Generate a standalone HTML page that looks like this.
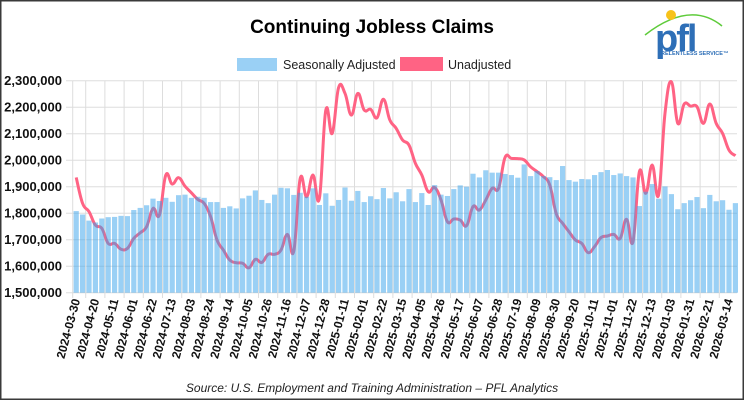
<!DOCTYPE html>
<html><head><meta charset="utf-8">
<style>
html,body{margin:0;padding:0;background:#fff;}
body{width:745px;height:400px;overflow:hidden;}
svg text{font-family:"Liberation Sans",Arial,sans-serif;}
</style></head>
<body>
<svg id="c" width="745" height="400" viewBox="0 0 745 400" xmlns="http://www.w3.org/2000/svg">
<rect x="0.75" y="0.75" width="742.5" height="398.5" fill="#fff" stroke="#3a3a3a" stroke-width="1.5"/>
<text x="372" y="33" text-anchor="middle" font-size="19" font-weight="bold" fill="#000">Continuing Jobless Claims</text>
<rect x="237" y="58" width="40" height="13" fill="rgba(54,162,235,0.5)"/>
<text x="283" y="69" font-size="12.5" fill="#222">Seasonally Adjusted</text>
<rect x="400" y="57" width="43" height="14" fill="#ff6384"/>
<text x="448" y="69" font-size="12.5" fill="#222">Unadjusted</text>
<!-- logo -->
<path d="M645 35 Q690 0 722 26" fill="none" stroke="#5ecb3a" stroke-width="1.5"/>
<circle cx="671" cy="15" r="5" fill="#f7c21a"/>
<text x="655" y="51" font-size="38" font-weight="bold" fill="#2e6fb7" letter-spacing="-2">pfl</text>
<text x="661" y="55" font-size="5.5" font-weight="bold" fill="#2e6fb7">RELENTLESS SERVICE™</text>
<text x="372" y="392" text-anchor="middle" font-size="12" font-style="italic" fill="#222">Source: U.S. Employment and Training Administration – PFL Analytics</text>
<g id="plot"></g>
</svg>
<script>
var bars=[1808,1795,1772,1765,1780,1785,1786,1790,1789,1812,1820,1830,1855,1846,1858,1843,1868,1870,1858,1862,1858,1842,1842,1820,1826,1818,1856,1866,1886,1850,1838,1870,1896,1894,1869,1877,1862,1894,1831,1875,1828,1850,1897,1847,1884,1842,1864,1853,1895,1856,1879,1845,1891,1842,1876,1831,1906,1870,1865,1891,1905,1900,1949,1935,1962,1953,1953,1948,1944,1934,1984,1940,1959,1940,1936,1925,1978,1925,1919,1929,1928,1944,1955,1963,1944,1950,1940,1935,1827,1881,1910,1855,1901,1872,1815,1838,1849,1861,1819,1869,1845,1849,1813,1838];
var line=[1935,1837,1806,1755,1743,1686,1686,1664,1667,1705,1726,1749,1818,1793,1944,1910,1934,1902,1877,1852,1837,1787,1699,1661,1623,1613,1611,1594,1626,1614,1645,1645,1661,1720,1657,1931,1862,1944,1856,2189,2101,2274,2252,2170,2252,2189,2192,2160,2230,2152,2120,2076,2057,1988,1944,1881,1897,1850,1768,1778,1774,1753,1825,1812,1850,1894,1894,2010,2007,2006,2001,1975,1957,1938,1906,1799,1762,1730,1699,1686,1651,1674,1708,1714,1720,1705,1777,1692,1957,1875,1982,1869,2177,2296,2139,2212,2204,2202,2139,2212,2139,2101,2038,2017];
var labels=["2024-03-30","2024-04-20","2024-05-11","2024-06-01","2024-06-22","2024-07-13","2024-08-03","2024-08-24","2024-09-14","2024-10-05","2024-10-26","2024-11-16","2024-12-07","2024-12-28","2025-01-11","2025-02-01","2025-02-22","2025-03-15","2025-04-05","2025-04-26","2025-05-17","2025-06-07","2025-06-28","2025-07-19","2025-08-09","2025-08-30","2025-09-20","2025-10-11","2025-11-01","2025-11-22","2025-12-13","2026-01-03","2026-01-31","2026-02-21","2026-03-14"];
var X0=73,W=6.4,Y0=292.7,K=0.265;
function y(v){return Y0-(v-1500)*K;}
var s='';
for(var v=1500;v<=2300;v+=100){var yy=y(v);
 s+='<line x1="66" x2="737" y1="'+yy+'" y2="'+yy+'" stroke="#ddd" stroke-width="1"/>';
 s+='<text x="62" y="'+(yy+4.5)+'" text-anchor="end" font-size="13" font-weight="bold" fill="#111">'+(v/1000).toFixed(3).replace('.',',')+',000</text>';}
s+='<line x1="72.7" x2="72.7" y1="80.7" y2="298" stroke="#ddd"/>';
for(var k=0;k<35;k++){var xx=85.7+19.2*k; if(xx>737)break;
 s+='<line x1="'+xx+'" x2="'+xx+'" y1="80.7" y2="298" stroke="#ddd"/>';}
var p=line.map(function(v,i){return [X0+W*i+3.2,y(v)];});
var d='M'+p[0][0]+' '+p[0][1];var t=0.4;
for(var i=0;i<p.length-1;i++){var a=p[i-1]||p[i],b=p[i],c=p[i+1],e=p[i+2]||c;
 d+=' C'+(b[0]+(c[0]-a[0])*t/2)+' '+(b[1]+(c[1]-a[1])*t/2)+' '+(c[0]-(e[0]-b[0])*t/2)+' '+(c[1]-(e[1]-b[1])*t/2)+' '+c[0]+' '+c[1];}
s+='<path d="'+d+'" fill="none" stroke="#ff6384" stroke-width="3"/>';
for(var i=0;i<bars.length;i++){var yy=y(bars[i]);
 s+='<rect x="'+(X0+W*i+0.6)+'" y="'+yy+'" width="5.2" height="'+(Y0-yy)+'" fill="rgba(54,162,235,0.5)"/>';}
for(var k=0;k<labels.length;k++){var xx=X0+W*3*k+3.2+4;
 s+='<text transform="translate('+xx+',300) rotate(-75)" text-anchor="end" font-size="12" font-weight="bold" fill="#111">'+labels[k]+'</text>';}
document.getElementById('plot').innerHTML=s;
</script>
</body></html>
